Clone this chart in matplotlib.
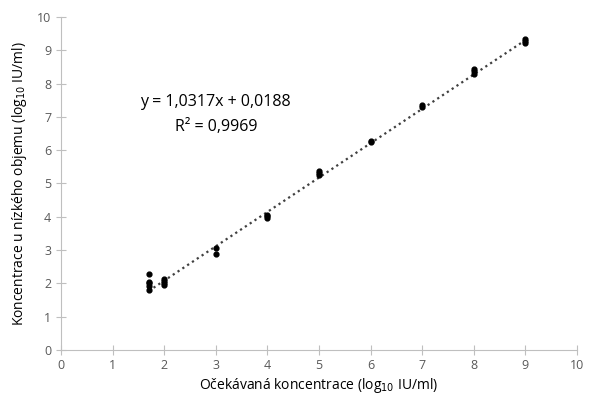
import matplotlib
matplotlib.use("Agg")
import matplotlib.pyplot as plt
import numpy as np

plt.rcParams['font.family'] = ['Open Sans', 'DejaVu Sans']

# expected vs measured concentration (log10 IU/ml)
x_expected = [1.7, 1.7, 1.7, 1.7, 1.7,
              2.0, 2.0, 2.0, 2.0,
              3.0, 3.0,
              4.0, 4.0, 4.0,
              5.0, 5.0, 5.0,
              6.0, 6.0,
              7.0, 7.0,
              8.0, 8.0, 8.0,
              9.0, 9.0, 9.0]
y_measured = [2.28, 2.05, 2.0, 1.93, 1.8,
              2.12, 2.06, 2.0, 1.94,
              3.06, 2.87,
              4.06, 4.01, 3.97,
              5.36, 5.3, 5.25,
              6.26, 6.28,
              7.31, 7.36,
              8.45, 8.37, 8.3,
              9.33, 9.27, 9.22]
slope = 1.0317
intercept = 0.0188
eq_text = "y = 1,0317x + 0,0188"
r2_text = "R² = 0,9969"

fig = plt.figure(figsize=(5.89, 4.04), dpi=100)
ax = fig.add_axes([0.1036, 0.1337, 0.876, 0.8243])

ax.scatter(x_expected, y_measured, s=12, color='black', zorder=3)
xt = np.array([min(x_expected), max(x_expected)])
ax.plot(xt, slope * xt + intercept, linestyle=(0, (1, 1.6)), color='#404040', lw=1.6, zorder=2)

ax.text(3.0, 7.45, eq_text, fontsize=11.5, ha='center', va='center')
ax.text(3.0, 6.7, r2_text, fontsize=11.5, ha='center', va='center')

ax.set_xlim(0, 10)
ax.set_ylim(0, 10)
ax.set_xticks(range(0, 11))
ax.set_yticks(range(0, 11))
for s in ['top', 'right']:
    ax.spines[s].set_visible(False)
for s in ['left', 'bottom']:
    ax.spines[s].set_color('#bfbfbf')
ax.tick_params(direction='inout', length=7, color='#bfbfbf', labelcolor='#595959', labelsize=9)
ax.tick_params(axis='x', pad=3)

ax.set_xlabel("Očekávaná koncentrace (log$_{10}$ IU/ml)", fontsize=10, labelpad=3)
ax.set_ylabel("Koncentrace u nízkého objemu (log$_{10}$ IU/ml)", fontsize=10, labelpad=6)

fig.savefig("out.png", dpi=100)
